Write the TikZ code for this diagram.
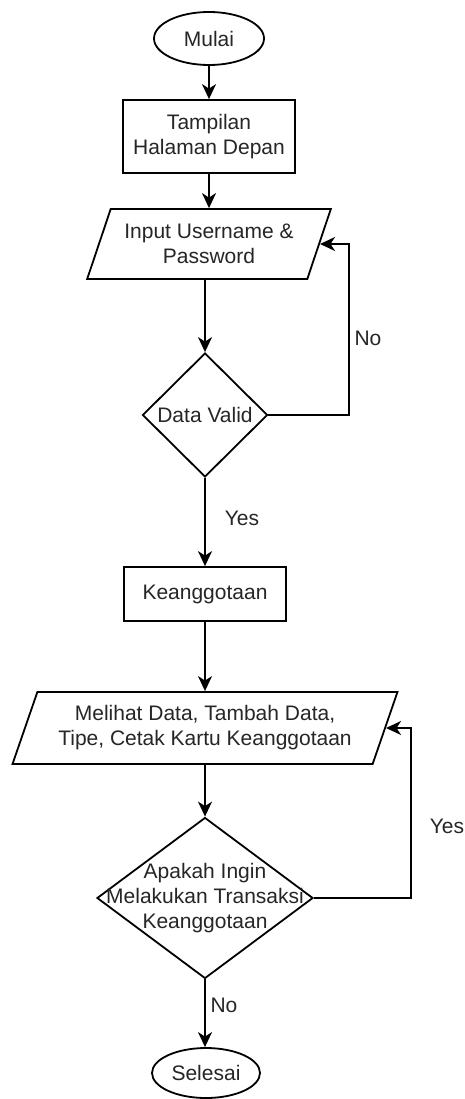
\documentclass[tikz,border=0pt]{standalone}
\usepackage{fontspec}
\setmainfont{Liberation Sans}
\usetikzlibrary{shapes.geometric,arrows.meta}
\begin{document}
\begin{tikzpicture}[x=1pt,y=-1pt,
  every node/.style={font=\fontsize{21}{25}\selectfont, text=black!85},
  base/.style={draw=black, line width=1.8pt, fill=white, inner sep=0pt, align=center},
  terminal/.style={base, ellipse},
  process/.style={base, rectangle},
  io/.style={base, trapezium, trapezium stretches=true},
  decision/.style={base, diamond},
  txt/.style={align=center, inner sep=0pt},
  flow/.style={line width=1.8pt, -{Stealth[length=15pt,width=14pt,inset=4.5pt]}},
  lbl/.style={inner sep=1pt}]
\useasboundingbox (0,0) rectangle (465,1099);

% main column
\node[terminal, minimum width=110pt, minimum height=53pt] (start) at (209,38.5) {Mulai};
\node[process, minimum width=172pt, minimum height=73pt] (home) at (209,136.5) {Tampilan\\Halaman Depan};
\node[io, trapezium left angle=63, trapezium right angle=117,
      minimum width=244pt, minimum height=70pt] (login) at (209,244) {Input Username \&\\Password};
\node[decision, minimum width=125pt, minimum height=124pt,
      label={[txt]center:Data Valid}] (valid) at (205,415) {};
\node[process, minimum width=162pt, minimum height=54pt] (member) at (205,594) {Keanggotaan};
\node[io, trapezium left angle=64, trapezium right angle=116,
      minimum width=386pt, minimum height=72pt] (menu) at (205,728) {Melihat Data, Tambah Data,\\Tipe, Cetak Kartu Keanggotaan};
\node[decision, minimum width=216pt, minimum height=161pt,
      label={[txt]center:{Apakah Ingin\\Melakukan Transaksi\\Keanggotaan}}] (again) at (205,898) {};
\node[terminal, minimum width=108pt, minimum height=50pt] (finish) at (206,1073) {Selesai};

% loop-back rails
\coordinate (railA) at (349,0);
\coordinate (railB) at (411,0);

% connectors
\draw[flow] (start) -- (home);
\draw[flow] (home) -- (login);
\draw[flow] (login.south -| valid.north) -- (valid.north);
\draw[flow] (valid.south) -- (member.north);
\draw[flow] (member.south) -- (menu.north -| member.south);
\draw[flow] (menu.south -| again.north) -- (again.north);
\draw[flow] (again.south) -- (finish.north -| again.south);
\draw[flow] (valid.east) -- (valid.east -| railA) |- (login.east);
\draw[flow] (again.east) -- (again.east -| railB) |- (menu.east);

% branch labels
\node[lbl] (noA) at (368,338) {No};
\node[lbl] (yesA) at (242,518) {Yes};
\node[lbl] (yesB) at (447,826) {Yes};
\node[lbl] (noB) at (224,1005) {No};
\end{tikzpicture}
\end{document}
